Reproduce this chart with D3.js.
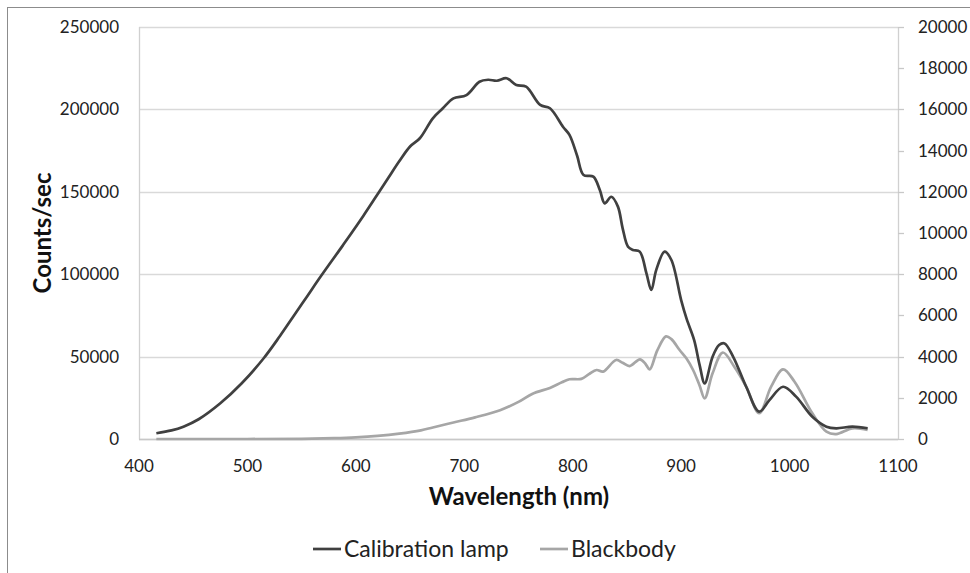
<!DOCTYPE html>
<html><head><meta charset="utf-8">
<script src="https://cdn.jsdelivr.net/npm/d3@7"></script>
<style>body{margin:0;background:#fff;} svg{display:block;font-family:Lato,"Open Sans",sans-serif;}</style>
</head><body>
<svg id="c" width="970" height="573"></svg>
<script>
// Data (wavelength nm, value)
const lampWavelengths = [416,430,441,455,475,495,515,530,542,555,568,588,607,622,630,640,650,659,671,680,690,702,714,722,730,739,748,757,770,779,791,797,804,810,819,825,829.5,835.6,841.7,846,851,855.6,861.8,868,872.5,877,884.8,891,900,905,912,917,921.7,929,935,940,948,960,972,981.6,994,1006,1021,1034,1043,1058,1072];
const lampCounts = [3500,5200,7500,12000,21700,34000,49000,62500,74000,86500,99000,117500,135500,150500,158500,168500,177500,182500,194600,200500,206700,208700,216800,218000,217400,218900,214800,213800,202700,200700,189500,184500,172000,160200,159200,151100,143000,147000,141000,128000,116700,114700,113700,100500,90400,102500,113700,108600,84300,73000,60000,45000,33800,49900,57000,58000,49900,31700,16600,23700,31700,25700,13500,7500,6500,7500,6500];
const bbWavelengths = [416,500,550,580,600,620,640,660,671,690,710,733,750,763,779,790,797,808,815,822,828,840,846,852.5,862,867,871,878,886,891,898.6,904.8,911,917,921.7,929,938.5,949,960,972,983,994,1004.6,1021,1034,1043,1058,1072];
const bbCounts = [0,0,10,40,80,150,260,420,560,800,1050,1400,1800,2200,2480,2750,2900,2920,3150,3350,3270,3835,3700,3540,3870,3650,3380,4300,4980,4850,4320,3917,3350,2600,1975,3190,4200,3510,2540,1250,2540,3380,2780,1250,355,240,520,440];
const xTicks = [400,500,600,700,800,900,1000,1100];
const yLeftTicks = [0,50000,100000,150000,200000,250000];
const yRightTicks = [0,2000,4000,6000,8000,10000,12000,14000,16000,18000,20000];
const seriesNames = ["Calibration lamp","Blackbody"];
const seriesColors = ["#404040","#a6a6a6"];

const svg = d3.select("#c");
const L=139, R=898, T=27, B=439;
const x = d3.scaleLinear().domain([400,1100]).range([L,R]);
const yL = d3.scaleLinear().domain([0,250000]).range([B,T]);
const yR = d3.scaleLinear().domain([0,20000]).range([B,T]);

// outer border
svg.append("rect").attr("x",7.5).attr("y",7.5).attr("width",1000).attr("height",1000)
  .attr("fill","none").attr("stroke","#8c8c8c").attr("stroke-width",1);

// gridlines
svg.append("g").selectAll("line").data(yLeftTicks).join("line")
  .attr("x1",L).attr("x2",R).attr("y1",d=>Math.round(yL(d))+0.5).attr("y2",d=>Math.round(yL(d))+0.5)
  .attr("stroke","#d9d9d9").attr("stroke-width",1.3);
// axis lines
svg.append("line").attr("x1",L+0.5).attr("x2",L+0.5).attr("y1",T).attr("y2",B+0.5).attr("stroke","#d0d0d0").attr("stroke-width",1.3);
svg.append("line").attr("x1",R+0.5).attr("x2",R+0.5).attr("y1",T).attr("y2",B+0.5).attr("stroke","#d0d0d0").attr("stroke-width",1.3);
svg.append("line").attr("x1",L).attr("x2",R).attr("y1",B+0.5).attr("y2",B+0.5).attr("stroke","#c8c8c8").attr("stroke-width",1.3);

// left axis labels
const fs = "17px";
svg.append("g").selectAll("text").data(yLeftTicks).join("text")
  .attr("x",119).attr("y",d=>yL(d)).attr("dy","0.35em").attr("text-anchor","end")
  .attr("font-size",fs).attr("fill","#222").text(d=>d);
// right axis ticks and labels
svg.append("g").selectAll("line").data(yRightTicks).join("line")
  .attr("x1",R).attr("x2",R+6).attr("y1",d=>Math.round(yR(d))+0.5).attr("y2",d=>Math.round(yR(d))+0.5)
  .attr("stroke","#c8c8c8").attr("stroke-width",1.3);
svg.append("g").selectAll("text").data(yRightTicks).join("text")
  .attr("x",918).attr("y",d=>yR(d)).attr("dy","0.35em").attr("text-anchor","start")
  .attr("font-size",fs).attr("fill","#222").text(d=>d);
// x labels
svg.append("g").selectAll("text").data(xTicks).join("text")
  .attr("x",d=>x(d)).attr("y",466).attr("dy","0.35em").attr("text-anchor","middle")
  .attr("font-size",fs).attr("fill","#222").text(d=>d);

// titles
svg.append("text").attr("x",519).attr("y",497).attr("dy","0.35em").attr("text-anchor","middle")
  .attr("font-size","24px").attr("font-weight","bold").attr("fill","#111").text("Wavelength (nm)");
svg.append("text").attr("transform","translate(43,233) rotate(-90)").attr("dy","0.35em").attr("text-anchor","middle")
  .attr("font-size","24px").attr("font-weight","bold").attr("fill","#111").text("Counts/sec");

// lines
const lampData = lampWavelengths.map((w,i)=>[w,lampCounts[i]]);
const bbData = bbWavelengths.map((w,i)=>[w,bbCounts[i]]);
const lineL = d3.line().x(d=>x(d[0])).y(d=>yL(d[1])).curve(d3.curveCatmullRom.alpha(0.5));
const lineR = d3.line().x(d=>x(d[0])).y(d=>yR(d[1])).curve(d3.curveCatmullRom.alpha(0.5));
svg.append("path").datum(bbData).attr("d",lineR).attr("fill","none").attr("stroke",seriesColors[1]).attr("stroke-width",2.7).attr("stroke-linejoin","round");
svg.append("path").datum(lampData).attr("d",lineL).attr("fill","none").attr("stroke",seriesColors[0]).attr("stroke-width",2.7).attr("stroke-linejoin","round");

// legend
const leg = [{x:313,name:seriesNames[0],c:seriesColors[0]},{x:540,name:seriesNames[1],c:seriesColors[1]}];
const lg = svg.append("g");
leg.forEach(l=>{
  lg.append("line").attr("x1",l.x).attr("x2",l.x+28).attr("y1",549).attr("y2",549).attr("stroke",l.c).attr("stroke-width",2.7);
  lg.append("text").attr("x",l.x+31).attr("y",549).attr("dy","0.35em").attr("font-size","23px").attr("fill","#222").text(l.name);
});
</script>
</body></html>
